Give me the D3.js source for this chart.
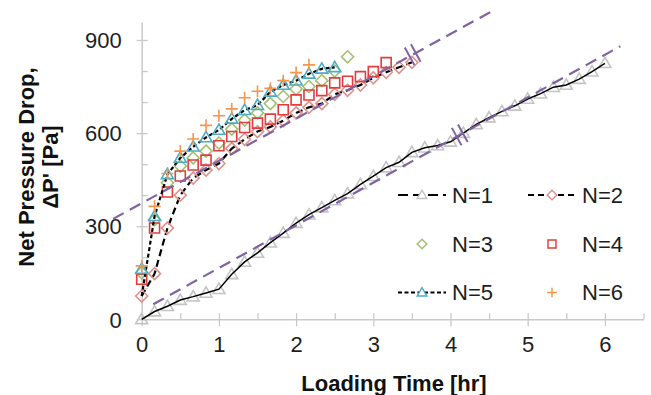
<!DOCTYPE html>
<html>
<head>
<meta charset="utf-8">
<script src="https://cdn.jsdelivr.net/npm/d3@7/dist/d3.min.js"></script>
<style>
  body { margin: 0; background: #fff; }
  svg { display: block; font-family: "Liberation Sans", Arial, sans-serif; }
</style>
</head>
<body>
<svg id="chart" width="651" height="395"></svg>
<script>
// loading time of each reading, minutes
const minutes = [0, 10, 20, 30, 40, 50, 60, 70, 80, 90, 100, 110, 120, 130, 140, 150, 160, 170, 180,
  190, 200, 210, 220, 230, 240, 250, 260, 270, 280, 290, 300, 310, 320, 330, 340, 350, 360]

// net pressure drop [Pa] per number of layers N
const n1 = [0, 25, 42, 62, 73, 85, 97, 145, 185, 214, 247, 278, 310, 337, 360, 383, 405, 435, 461,
  489, 506, 538, 553, 560, 572, 600, 628, 650, 670, 688, 710, 727, 748, 755, 774, 798, 825]
const n2 = [75, 147, 294, 400, 455, 481, 502, 550, 580, 605, 620, 640, 665, 683, 695, 725, 738, 755,
  778, 796, 812, 828]
const n3 = [150, 320, 440, 494, 520, 542, 568, 613, 642, 665, 695, 718, 742, 750, 769, 800, 846]
const n4 = [129, 294, 410, 462, 497, 513, 559, 589, 618, 632, 645, 675, 707, 723, 737, 762, 767, 782,
  798, 827]
const n5 = [162, 332, 467, 520, 556, 586, 610, 646, 674, 690, 733, 755, 769, 791, 807, 812]
const n5Line = [75, 332, 467, 520, 556, 586, 610, 646, 674, 690, 733, 755, 769, 791, 807, 812]
const n6 = [172, 364, 470, 542, 581, 625, 656, 678, 714, 735, 744, 769, 795, 820]

// linear trends (purple dashed): intercept, slope, time span, axis-break position
const fitIntercept = [374, 28]
const fitSlope = [136.4, 137.4]
const fitSpan = [[-0.37, 4.58], [0.15, 6.2]]
const breakAt = [3.51, 4.12]

const xTicks = [0, 0.5, 1, 1.5, 2, 2.5, 3, 3.5, 4, 4.5, 5, 5.5, 6, 6.5]
const yTicks = [0, 100, 200, 300, 400, 500, 600, 700, 800, 900]

const axisColor = '#c9c9c9'
const purple = '#8064a2'
const textColor = '#1e1e1e'

const svg = d3.select('#chart')
const x = d3.scaleLinear().domain([0, 6.5]).range([141.7, 643.5])
const y = d3.scaleLinear().domain([0, 958]).range([319.3, 22])

const pts = vals => vals.map((v, i) => [minutes[i] / 60, v])

// axes
const xAxis = svg.append('g')
  .attr('transform', `translate(0,${y(0)})`)
  .call(d3.axisBottom(x).tickValues(xTicks).tickSizeOuter(0)
    .tickFormat(d => Number.isInteger(d) ? d : ''))
xAxis.select('.domain').attr('stroke', axisColor).attr('stroke-width', 1.5)
xAxis.selectAll('.tick line').attr('stroke', axisColor).attr('stroke-width', 1.3)
  .attr('y1', -6).attr('y2', d => Number.isInteger(d) ? 7 : 0)
xAxis.selectAll('.tick text').attr('y', 33).attr('dy', 0)
  .attr('font-size', 22).attr('fill', textColor).attr('font-family', null)

const yAxis = svg.append('g')
  .attr('transform', `translate(${x(0)},0)`)
  .call(d3.axisLeft(y).tickValues(yTicks).tickSizeOuter(0)
    .tickFormat(d => d % 300 === 0 ? d : ''))
yAxis.select('.domain').attr('stroke', axisColor).attr('stroke-width', 1.5)
yAxis.selectAll('.tick line').attr('stroke', axisColor).attr('stroke-width', 1.3)
  .attr('x1', d => d % 300 === 0 ? -5 : 0).attr('x2', 6)
yAxis.selectAll('.tick text').attr('x', -20).attr('dy', '0.35em')
  .attr('font-size', 22).attr('fill', textColor).attr('font-family', null)

// axis titles
svg.append('text')
  .attr('x', 394).attr('y', 391)
  .attr('text-anchor', 'middle')
  .attr('font-size', 22).attr('font-weight', 'bold').attr('fill', '#111')
  .text('Loading Time [hr]')

const yTitle = svg.append('text')
  .attr('transform', 'translate(0,167) rotate(-90)')
  .attr('text-anchor', 'middle')
  .attr('font-size', 22).attr('font-weight', 'bold').attr('fill', '#111')
yTitle.append('tspan').attr('x', 0).attr('y', 34).text('Net Pressure Drop,')
yTitle.append('tspan').attr('x', 0).attr('y', 58).text('\u0394P\' [Pa]')

// markers
const shapes = {
  triangle: 'M0,-6L6,4.3L-6,4.3Z',
  diamond: 'M0,-6L6,0L0,6L-6,0Z',
  square: 'M-5,-5H5V5H-5Z',
  plus: 'M-6,0H6M0,-6V6'
}

const line = d3.line().x(d => x(d[0])).y(d => y(d[1]))

function drawMarkers(data, shape, color) {
  svg.append('g').selectAll('path')
    .data(data)
    .join('path')
    .attr('transform', d => `translate(${x(d[0])},${y(d[1])})`)
    .attr('d', shapes[shape])
    .attr('fill', 'none')
    .attr('stroke', color)
    .attr('stroke-width', 1.6)
}

function drawLine(data, dash, width) {
  svg.append('path')
    .datum(data)
    .attr('d', line)
    .attr('fill', 'none')
    .attr('stroke', '#000')
    .attr('stroke-width', width)
    .attr('stroke-dasharray', dash)
}

drawMarkers(pts(n1), 'triangle', '#c4c4c4')
drawLine(pts(n1), null, 1.5)

drawLine(pts(n2), '7,4', 2.2)
drawMarkers(pts(n2), 'diamond', '#de928c')

drawMarkers(pts(n3), 'diamond', '#a3c074')
drawMarkers(pts(n4), 'square', '#e23c3c')

drawLine(pts(n5Line), '4,2.5', 2.2)
drawMarkers(pts(n5), 'triangle', '#4bacc6')

drawMarkers(pts(n6), 'plus', '#f7964a')

// trend lines with break marks
fitIntercept.forEach((a, i) => {
  const b = fitSlope[i]
  const span = fitSpan[i]
  svg.append('line')
    .attr('x1', x(span[0])).attr('y1', y(a + b * span[0]))
    .attr('x2', x(span[1])).attr('y2', y(a + b * span[1]))
    .attr('stroke', purple).attr('stroke-width', 2.2)
    .attr('stroke-dasharray', '12,7')

  const t = breakAt[i]
  const px = x(t), py = y(a + b * t)
  const dx = x(1) - x(0), dy = y(b) - y(0)
  const len = Math.hypot(dx, dy)
  const ux = dx / len, uy = dy / len
  const nx = -uy, ny = ux
  ;[-3.5, 3.5].forEach(off => {
    svg.append('line')
      .attr('x1', px + ux * off - nx * 10).attr('y1', py + uy * off - ny * 10)
      .attr('x2', px + ux * off + nx * 10).attr('y2', py + uy * off + ny * 10)
      .attr('stroke', purple).attr('stroke-width', 2)
  })
})

// legend
const legendItems = [
  { label: 'N=1', shape: 'triangle', color: '#c4c4c4', dash: '10,5', col: 0, row: 0 },
  { label: 'N=2', shape: 'diamond', color: '#de928c', dash: '6,4', col: 1, row: 0 },
  { label: 'N=3', shape: 'diamond', color: '#a3c074', dash: null, col: 0, row: 1 },
  { label: 'N=4', shape: 'square', color: '#e23c3c', dash: null, col: 1, row: 1 },
  { label: 'N=5', shape: 'triangle', color: '#4bacc6', dash: '4,2.5', col: 0, row: 2 },
  { label: 'N=6', shape: 'plus', color: '#f7964a', dash: null, col: 1, row: 2 }
]
const colX = [398, 528]
const rowY = [195, 244, 292.5]

const lg = svg.append('g').selectAll('g')
  .data(legendItems)
  .join('g')
  .attr('transform', d => `translate(${colX[d.col]},${rowY[d.row]})`)

lg.filter(d => d.dash)
  .append('line')
  .attr('x1', 0).attr('x2', 48).attr('y1', 0).attr('y2', 0)
  .attr('stroke', '#000').attr('stroke-width', 2)
  .attr('stroke-dasharray', d => d.dash)

lg.append('path')
  .attr('transform', 'translate(24,0) scale(0.8)')
  .attr('d', d => shapes[d.shape])
  .attr('fill', d => d.dash ? '#fff' : 'none')
  .attr('stroke', d => d.color)
  .attr('stroke-width', 1.8)

lg.append('text')
  .attr('x', 54).attr('dy', '0.36em')
  .attr('font-size', 22).attr('fill', textColor)
  .text(d => d.label)
</script>
</body>
</html>
